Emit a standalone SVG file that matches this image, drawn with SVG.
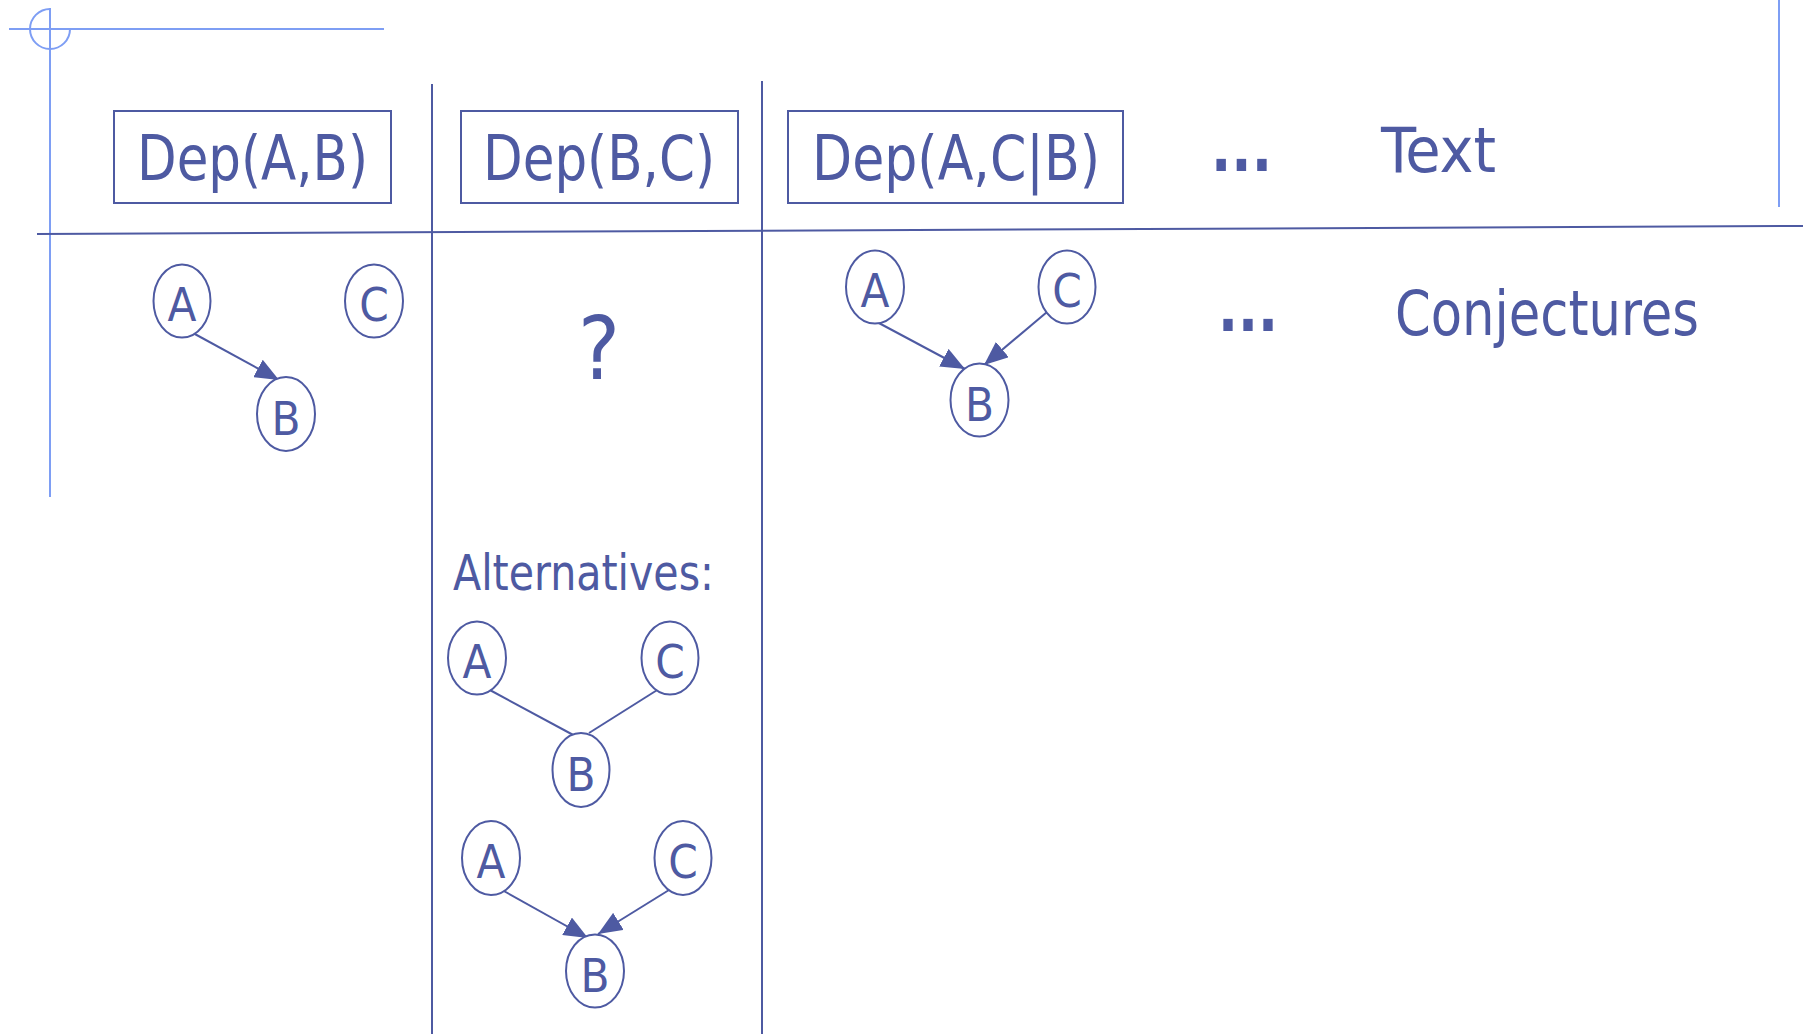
<svg xmlns="http://www.w3.org/2000/svg" width="1805" height="1034" viewBox="0 0 1805 1034">
  <style>
    .deco { stroke: #7e9ef4; stroke-width: 2; fill: none; }
    .rule { stroke: #4e5aa2; stroke-width: 2; fill: none; }
    .box { stroke: #4e5aa2; stroke-width: 2; fill: #ffffff; }
    .node ellipse { stroke: #4e5aa2; stroke-width: 2; fill: #ffffff; }
    .edge { stroke: #4e5aa2; stroke-width: 2; fill: none; }
    text { font-family: "DejaVu Sans Condensed", "DejaVu Sans", sans-serif; fill: #4e5aa2; }
    .lbl { font-size: 62px; }
    .dots { font-size: 64px; font-weight: bold; }
    .nl { font-size: 47px; text-anchor: middle; }
  </style>
  <defs>
    <marker id="arrow" markerUnits="userSpaceOnUse" markerWidth="24" markerHeight="20" refX="24" refY="10" orient="auto">
      <path d="M0,0 L24,10 L0,20 z" fill="#4e5aa2"/>
    </marker>
  </defs>

  <rect width="1805" height="1034" fill="#ffffff"/>

  <!-- slide frame ornaments -->
  <g id="frame">
    <line class="deco" x1="9" y1="29" x2="384" y2="29"/>
    <line class="deco" x1="50" y1="8" x2="50" y2="497"/>
    <path class="deco" d="M50,9 A20,20 0 1 0 70,29"/>
    <line class="deco" x1="1779" y1="0" x2="1779" y2="207"/>
  </g>

  <!-- table rules -->
  <g id="rules">
    <line class="rule" x1="37" y1="234" x2="1803" y2="226"/>
    <line class="rule" x1="432" y1="84" x2="432" y2="1034"/>
    <line class="rule" x1="762" y1="81" x2="762" y2="1034"/>
  </g>

  <!-- header boxes -->
  <g id="dep-ab">
    <rect class="box" x="114" y="111" width="277" height="92"/>
    <text class="lbl" x="137" y="180" textLength="231" lengthAdjust="spacingAndGlyphs">Dep(A,B)</text>
  </g>
  <g id="dep-bc">
    <rect class="box" x="461" y="111" width="277" height="92"/>
    <text class="lbl" x="483" y="180" textLength="232" lengthAdjust="spacingAndGlyphs">Dep(B,C)</text>
  </g>
  <g id="dep-acb">
    <rect class="box" x="788" y="111" width="335" height="92"/>
    <text class="lbl" x="812" y="180" textLength="288" lengthAdjust="spacingAndGlyphs">Dep(A,C|B)</text>
  </g>

  <g id="row-labels">
    <text class="dots" x="1211" y="171" textLength="61" lengthAdjust="spacingAndGlyphs">...</text>
    <text class="lbl" x="1381" y="172" textLength="115" lengthAdjust="spacingAndGlyphs">Text</text>
    <text class="dots" x="1218" y="331" textLength="60" lengthAdjust="spacingAndGlyphs">...</text>
    <text class="lbl" x="1395" y="335" textLength="304" lengthAdjust="spacingAndGlyphs">Conjectures</text>
  </g>

  <g id="unknown">
    <text x="599" y="379" font-size="88" text-anchor="middle">?</text>
  </g>
  <g id="alternatives-label">
    <text x="453" y="590" font-size="49" textLength="261" lengthAdjust="spacingAndGlyphs">Alternatives:</text>
  </g>

  <!-- connectors -->
  <g id="edges">
    <line class="edge" x1="193" y1="333" x2="279" y2="380" marker-end="url(#arrow)"/>
    <line class="edge" x1="877" y1="322" x2="965" y2="369" marker-end="url(#arrow)"/>
    <line class="edge" x1="1047" y1="312" x2="984" y2="365" marker-end="url(#arrow)"/>
    <line class="edge" x1="488" y1="689" x2="577" y2="737"/>
    <line class="edge" x1="662" y1="687" x2="589" y2="733"/>
    <line class="edge" x1="502" y1="890" x2="588" y2="938" marker-end="url(#arrow)"/>
    <line class="edge" x1="669" y1="890" x2="598" y2="934" marker-end="url(#arrow)"/>
  </g>

  <!-- graph: Dep(A,B) -->
  <g id="g1-a" class="node"><ellipse cx="182" cy="301" rx="28.5" ry="36.5"/><text class="nl" x="182" y="321">A</text></g>
  <g id="g1-c" class="node"><ellipse cx="374" cy="301" rx="29" ry="36.5"/><text class="nl" x="374" y="321">C</text></g>
  <g id="g1-b" class="node"><ellipse cx="286" cy="414" rx="29" ry="37"/><text class="nl" x="286" y="435">B</text></g>

  <!-- graph: Dep(A,C|B) -->
  <g id="g3-a" class="node"><ellipse cx="875" cy="287" rx="29" ry="36.5"/><text class="nl" x="875" y="307">A</text></g>
  <g id="g3-c" class="node"><ellipse cx="1067" cy="287" rx="28.5" ry="36.5"/><text class="nl" x="1067" y="307">C</text></g>
  <g id="g3-b" class="node"><ellipse cx="979.5" cy="400" rx="29" ry="36.5"/><text class="nl" x="979.5" y="421">B</text></g>

  <!-- alternative 1 -->
  <g id="alt1-a" class="node"><ellipse cx="477" cy="658" rx="29" ry="36.5"/><text class="nl" x="477" y="678">A</text></g>
  <g id="alt1-c" class="node"><ellipse cx="670" cy="658" rx="28.5" ry="36.5"/><text class="nl" x="670" y="678">C</text></g>
  <g id="alt1-b" class="node"><ellipse cx="581" cy="770" rx="28.5" ry="37"/><text class="nl" x="581" y="791">B</text></g>

  <!-- alternative 2 -->
  <g id="alt2-a" class="node"><ellipse cx="491" cy="858" rx="29" ry="37"/><text class="nl" x="491" y="878">A</text></g>
  <g id="alt2-c" class="node"><ellipse cx="683" cy="858" rx="28.5" ry="37"/><text class="nl" x="683" y="878">C</text></g>
  <g id="alt2-b" class="node"><ellipse cx="595" cy="971" rx="29" ry="36.5"/><text class="nl" x="595" y="992">B</text></g>
</svg>
